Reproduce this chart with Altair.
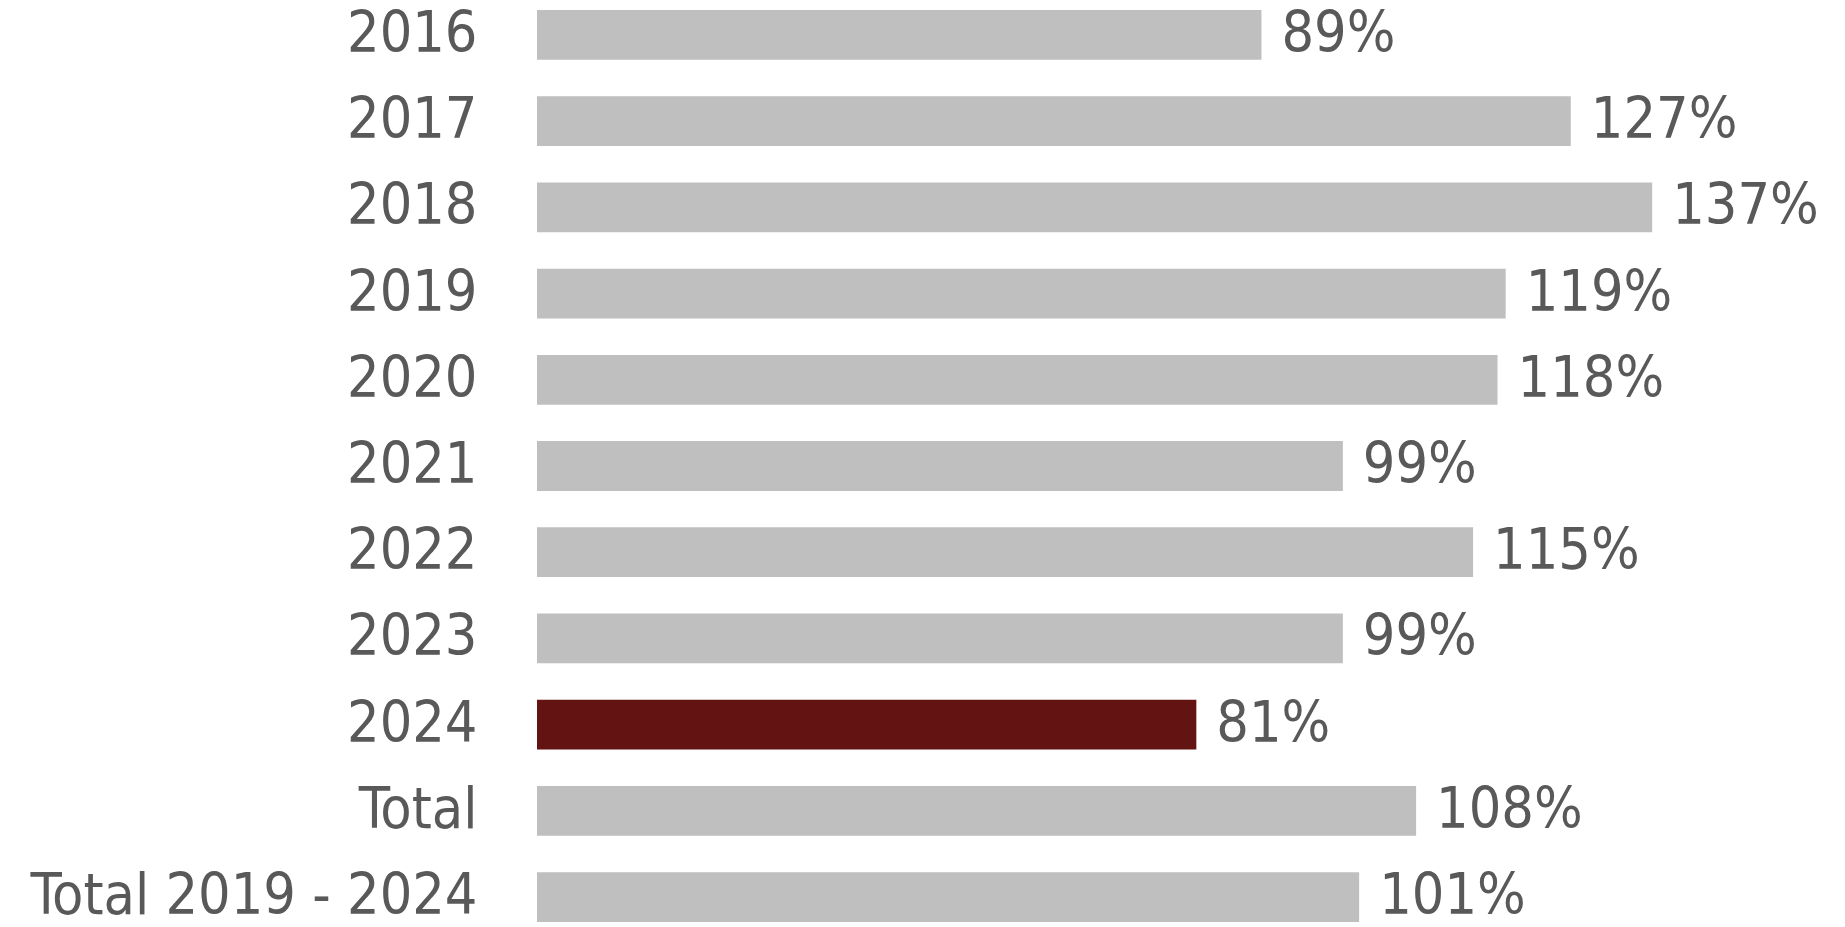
import altair as alt
import pandas as pd

categories = ["2016", "2017", "2018", "2019", "2020", "2021", "2022", "2023", "2024",
              "Total", "Total 2019 - 2024"]
values = [89, 127, 137, 119, 118, 99, 115, 99, 81, 108, 101]
highlight = [c == "2024" for c in categories]

df = pd.DataFrame({"cat": categories, "val": values, "hl": highlight})
df["label"] = df["val"].astype(str) + "%"

FONT = "DejaVu Sans Condensed"
LEFT = 537
W = 1845 - LEFT
H = 927
XMAX = W / 8.14

y = alt.Y("cat:N", sort=categories, title=None,
          scale=alt.Scale(range=[10, 922], paddingInner=0.423, paddingOuter=0),
          axis=alt.Axis(domain=False, ticks=False, grid=False, labelPadding=60,
                        labelFont=FONT, labelFontSize=57, labelColor="#595959",
                        labelLimit=0))
x = alt.X("val:Q", title=None, scale=alt.Scale(domain=[0, XMAX], nice=False),
          axis=None)

bars = alt.Chart(df).mark_bar().encode(
    y=y, x=x,
    color=alt.Color("hl:N", scale=alt.Scale(domain=[False, True],
                                            range=["#bfbfbf", "#641313"]),
                    legend=None),
)
text = alt.Chart(df).mark_text(align="left", baseline="middle", dx=20, dy=0,
                               font=FONT, fontSize=57, color="#595959").encode(
    y=y, x=x, text="label:N")

chart = alt.layer(bars, text).properties(
    width=W, height=H,
    autosize=alt.AutoSizeParams(type="none"),
    padding={"left": LEFT, "top": 0, "right": 0, "bottom": 0},
    view=alt.ViewBackground(stroke=None, strokeWidth=0),
).configure(
    background="white",
    view=alt.ViewConfig(stroke=None, strokeWidth=0),
    style={"cell": {"stroke": "transparent", "strokeWidth": 0}},
    axis=alt.AxisConfig(domain=False, grid=False, ticks=False),
)

chart.save("out.html", embed_options={"renderer": "svg", "actions": False})
